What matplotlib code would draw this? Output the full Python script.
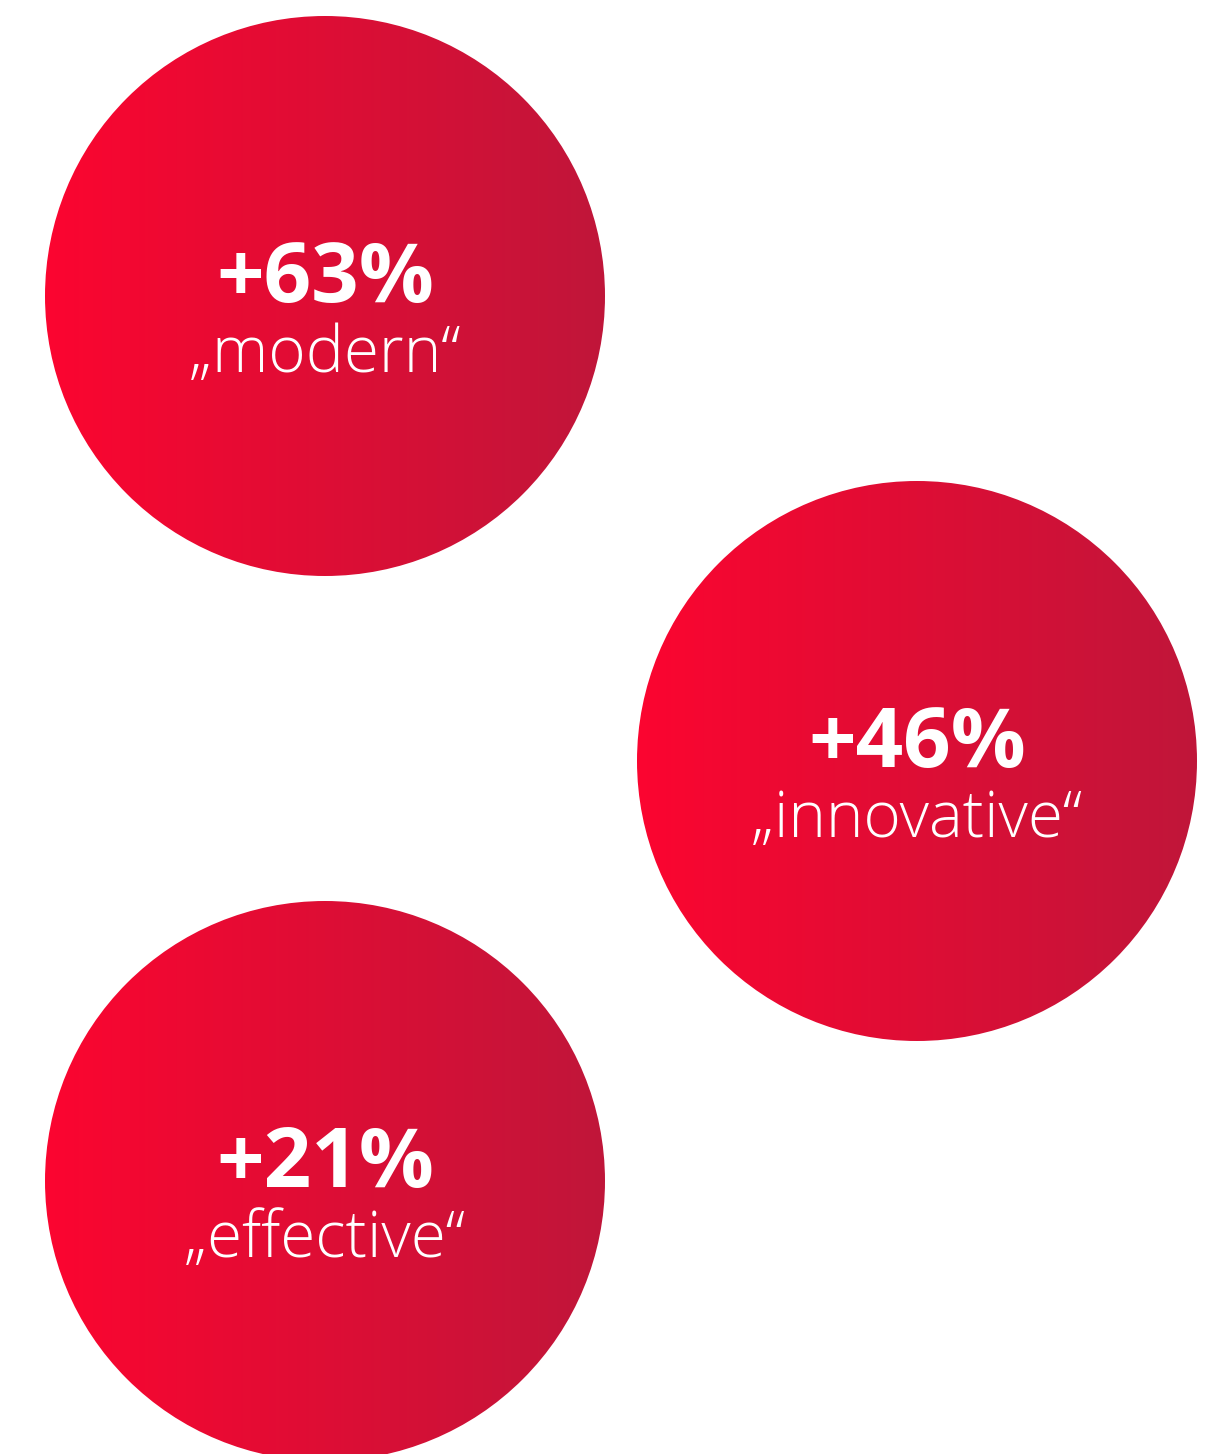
import numpy as np
import matplotlib.pyplot as plt
from matplotlib.patches import Circle
from matplotlib.colors import LinearSegmentedColormap

# growth in agreement per attribute
values = [63, 46, 21]
words = ["modern", "innovative", "effective"]

W, H = 1220, 1454
centres = [(325, 296), (917, 761), (325, 1181)]
R = 280

cmap = LinearSegmentedColormap.from_list("red", ["#fc0530", "#c0163a"])
grad = np.linspace(0, 1, 256).reshape(1, -1)

fig = plt.figure(figsize=(W / 100, H / 100), dpi=100)
ax = fig.add_axes([0, 0, 1, 1])
ax.set_xlim(0, W)
ax.set_ylim(H, 0)
ax.axis("off")

for (cx, cy), v, w in zip(centres, values, words):
    circ = Circle((cx, cy), R, facecolor="none", edgecolor="none")
    ax.add_patch(circ)
    im = ax.imshow(grad, cmap=cmap, extent=[cx - R, cx + R, cy + R, cy - R],
                   aspect="auto", interpolation="bilinear")
    im.set_clip_path(circ)
    ax.text(cx, cy + 6, "+%d%%" % v, color="white", fontsize=60,
            fontweight="bold", family="Open Sans", ha="center", va="baseline")
    ax.text(cx, cy + 76, "\u201e%s\u201c" % w, color="white", fontsize=46,
            fontweight="light", family="Open Sans", ha="center", va="baseline")

ax.set_xlim(0, W)
ax.set_ylim(H, 0)
fig.savefig("out.png", dpi=100)
